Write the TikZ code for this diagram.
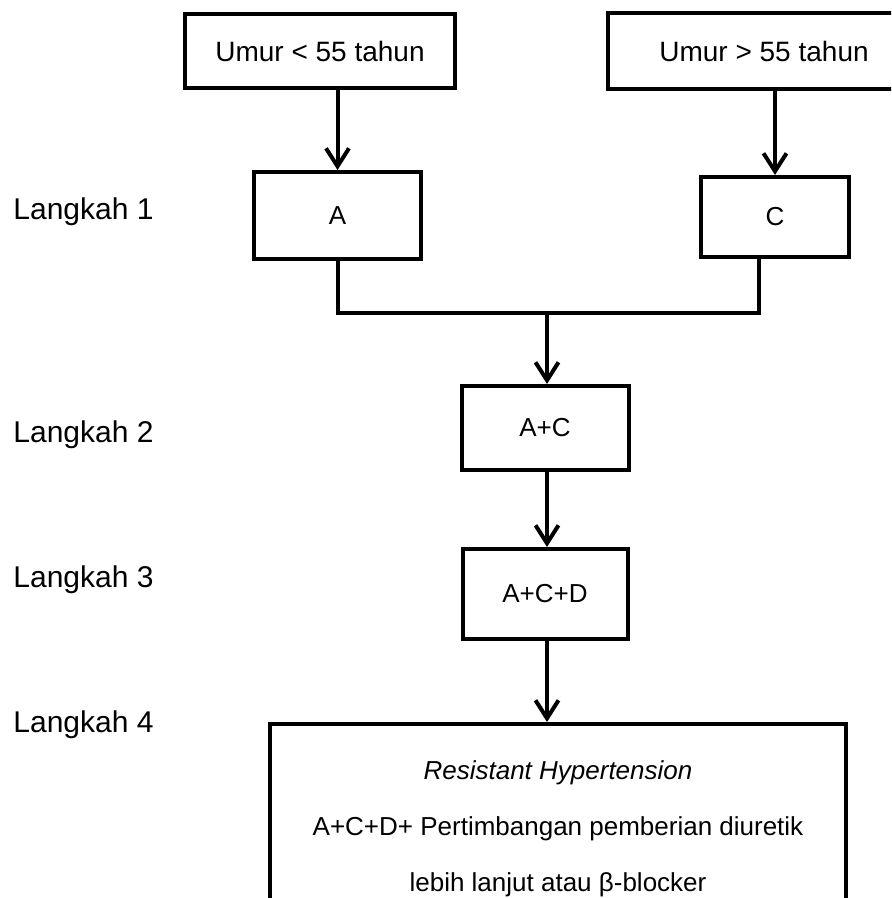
\documentclass[tikz,border=0pt]{standalone}
\usepackage{fontspec}
\setmainfont{Liberation Sans}
\usetikzlibrary{arrows.meta, positioning}
\tikzset{
  stepbox/.style={
    rectangle,
    draw,
    line width=2pt,
    align=center,
    inner sep=4pt,
    font=\fontsize{13}{15}\selectfont
  },
  agebox/.style={
    stepbox,
    font=\fontsize{14}{16}\selectfont
  },
  steplabel/.style={
    anchor=west,
    inner sep=0pt,
    font=\fontsize{15}{17}\selectfont
  },
  arrow/.style={-{Straight Barb[length=9pt,width=11.5pt]}, line width=2pt},
  joinline/.style={line width=2pt}
}
\begin{document}
\begin{tikzpicture}[x=0.5pt, y=-0.5pt]
  \clip (0,0) rectangle (891,898);

  \node[steplabel] (step1) at (13,212) {Langkah 1};
  \node[steplabel] (step2) at (13,435) {Langkah 2};
  \node[steplabel] (step3) at (13,580) {Langkah 3};
  \node[steplabel] (step4) at (13,725) {Langkah 4};

  \node[agebox, minimum width=135pt, minimum height=37pt] (young) at (320,51)
        {Umur < 55 tahun};
  \node[agebox, minimum width=156pt, minimum height=38pt] (old) at (764,51)
        {Umur > 55 tahun};

  \node[stepbox, minimum width=83.5pt, minimum height=43.5pt] (A) at (337.5,215.5) {A};
  \node[stepbox, minimum width=74pt, minimum height=40pt] (C) at (775,217) {C};

  \node[stepbox, minimum width=83.5pt, minimum height=42pt] (AC) at (545,428) {A+C};
  \node[stepbox, minimum width=82.5pt, minimum height=45pt, below=37.5pt of AC] (ACD)
        {A+C+D};
  \node[stepbox, minimum width=288pt, minimum height=105pt, below=40.5pt of ACD, xshift=6.5pt,
        font=\fontsize{13}{28}\selectfont] (final)
        {\textit{Resistant Hypertension}\\
         A+C+D+ Pertimbangan pemberian diuretik\\
         lebih lanjut atau β-blocker};

  \coordinate (join) at (547,313);

  \draw[arrow] (young.south -| A.north) -- (A.north);
  \draw[arrow] (old.south -| C.north) -- (C.north);
  \draw[joinline] (A.south) |- (join) -| ([xshift=-8pt]C.south);
  \draw[arrow] (join) -- (join |- AC.north);
  \draw[arrow] (AC.south -| join) -- (join |- ACD.north);
  \draw[arrow] (ACD.south -| join) -- (join |- final.north);
\end{tikzpicture}
\end{document}
